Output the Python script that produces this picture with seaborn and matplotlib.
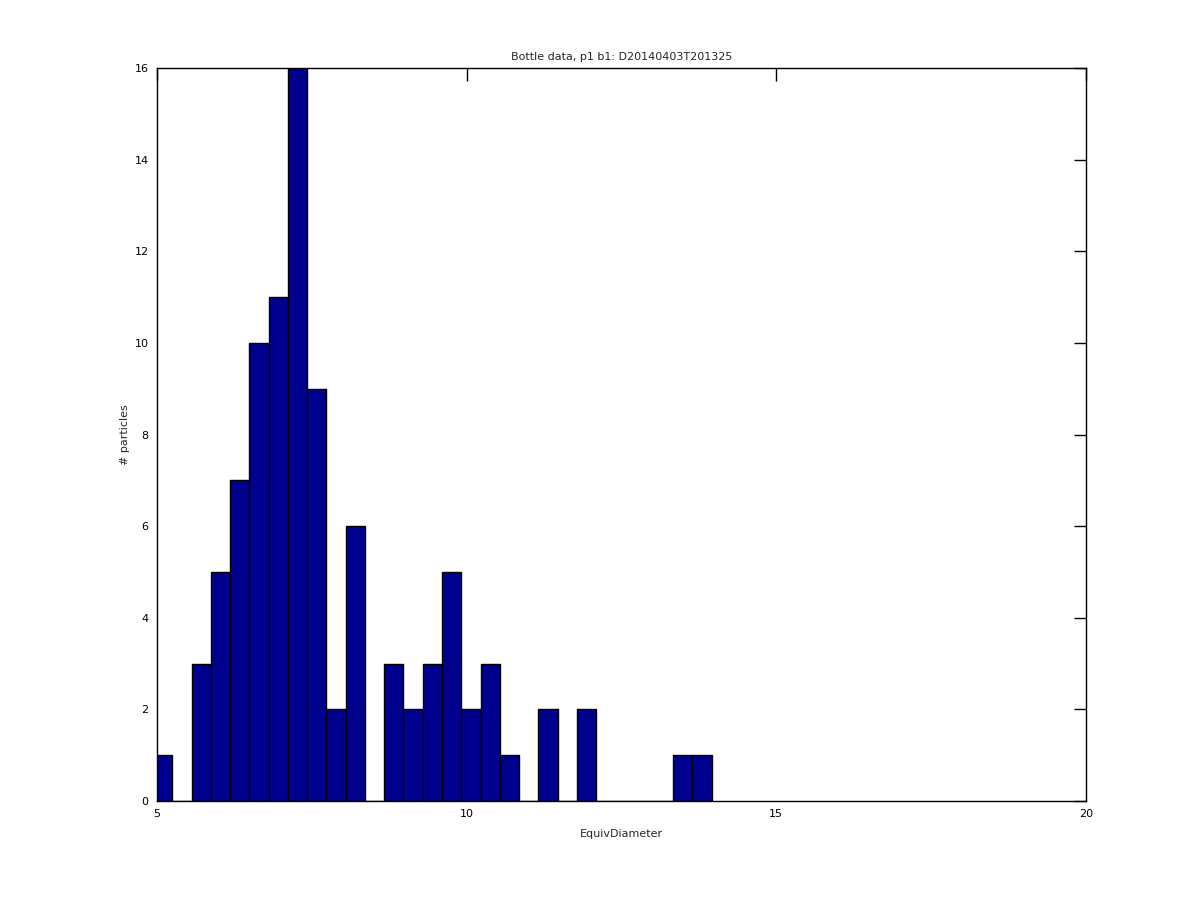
import matplotlib
matplotlib.use("Agg")
import matplotlib.pyplot as plt
import seaborn as sns
import numpy as np

# Data
bin_edges = [4.936, 5.247, 5.558, 5.869, 6.180, 6.491, 6.802, 7.113, 7.425, 7.736,
             8.047, 8.358, 8.669, 8.980, 9.291, 9.602, 9.913, 10.224, 10.535, 10.846,
             11.158, 11.469, 11.780, 12.091, 12.402, 12.713, 13.024, 13.335, 13.646, 13.957]
counts = [1, 0, 3, 5, 7, 10, 11, 16, 9, 2, 6, 0, 3, 2, 3, 5, 2, 3, 1, 0,
          2, 0, 2, 0, 0, 0, 0, 1, 1]
x_ticks = [5, 10, 15, 20]
y_ticks = [0, 2, 4, 6, 8, 10, 12, 14, 16]

centers = [(bin_edges[i] + bin_edges[i + 1]) / 2 for i in range(len(counts))]

sns.set_style("white")
plt.rcParams['font.family'] = ['DejaVu Sans']

fig = plt.figure(figsize=(12, 9), dpi=100)
ax = fig.add_axes([0.1308, 0.11, 0.7742, 0.8144])

sns.histplot(x=centers, weights=counts, bins=bin_edges, ax=ax,
             color='#00008F', edgecolor='black', linewidth=1.0, alpha=1.0)

ax.set_xlim(5, 20)
ax.set_ylim(0, 16)
ax.set_xticks(x_ticks)
ax.set_yticks(y_ticks)
ax.tick_params(direction='in', length=9, width=1, top=True, right=True,
               labelsize=8, pad=6, colors='black')
for s in ax.spines.values():
    s.set_color('black')
    s.set_linewidth(1)
ax.set_xlabel('EquivDiameter', fontsize=8, labelpad=7)
ax.set_ylabel('# particles', fontsize=8, labelpad=3)
ax.set_title('Bottle data, p1 b1: D20140403T201325', fontsize=8, pad=6)

fig.savefig('out.png', dpi=100, facecolor='white')
